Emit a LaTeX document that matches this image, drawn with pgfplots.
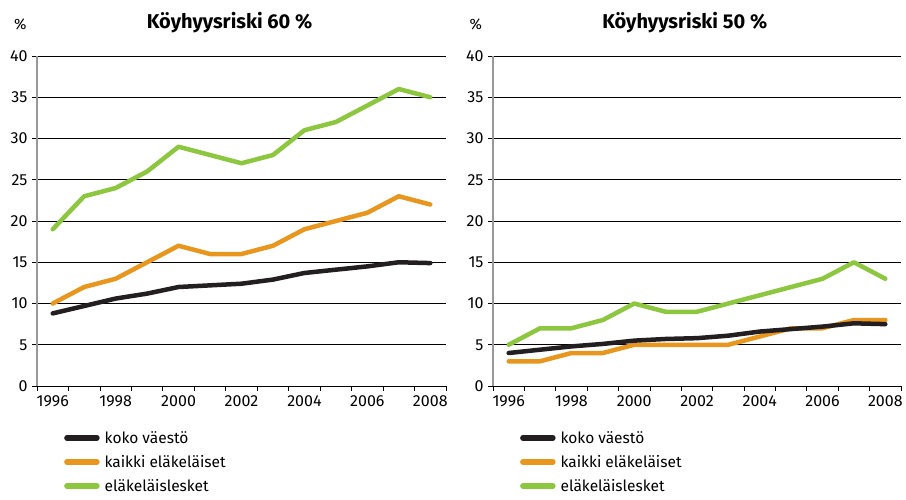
\documentclass[border=0pt]{standalone}
\usepackage{fontspec}
\setmainfont{Fira Sans}
\usepackage{pgfplots}
\pgfplotsset{compat=1.18}
\definecolor{cgreen}{HTML}{8DC63F}
\definecolor{corange}{HTML}{E8961E}
\definecolor{cblack}{HTML}{231F20}
\pgfplotsset{
  panel/.style={
    scale only axis, width=409pt, height=330pt,
    xmin=1995.5, xmax=2008.5, ymin=0, ymax=40,
    axis x line=bottom, axis y line=left,
    axis line style={-}, 
    y axis line style={draw=gray!80, line width=1.2pt},
    x axis line style={draw=black, line width=0.8pt},
    ytick={0,5,...,40}, ymajorgrids,
    grid style={black, line width=0.8pt},
    xtick={1996,1998,...,2008},
    xticklabels={1996,1998,2000,2002,2004,2006,2008},
    major x tick style={draw=none},
    minor xtick={1995.5,1996.5,...,2008.5},
    minor x tick style={black, line width=0.8pt},
    tick align=outside,
    major tick length=5pt, minor tick length=5pt,
    y tick style={black, line width=0.8pt},
    /pgf/number format/assume math mode=true,
    /pgf/number format/1000 sep={},
    tick label style={font=\fontsize{16}{18}\selectfont},
    yticklabel style={xshift=-1pt},
    xticklabel style={yshift=-1pt},
    every axis plot/.append style={line width=4.5pt, line join=round, line cap=round},
    legend style={draw=none, fill=none, font=\fontsize{15.5}{18}\selectfont,
      anchor=north west, row sep=6.5pt, inner sep=0pt,
      nodes={inner xsep=5pt}},
    legend cell align=left,
    legend image code/.code={\draw[##1, line width=5.5pt, line cap=round] (0pt,0pt) -- (30pt,0pt);},
    reverse legend,
    clip=false,
  }
}
\begin{document}
\begin{tikzpicture}
\path[use as bounding box] (0pt,0pt) rectangle (906pt,-499pt);
\begin{axis}[panel, anchor=south west, at={(37pt,-386pt)},
  legend style={at={(rel axis cs:0.066,-0.13)}}]
\addplot[cgreen] coordinates {(1996,19)(1997,23)(1998,24)(1999,26)(2000,29)(2001,28)(2002,27)(2003,28)(2004,31)(2005,32)(2006,34)(2007,36)(2008,35)};
\addlegendentry{eläkeläislesket}
\addplot[corange] coordinates {(1996,10)(1997,12)(1998,13)(1999,15)(2000,17)(2001,16)(2002,16)(2003,17)(2004,19)(2005,20)(2006,21)(2007,23)(2008,22)};
\addlegendentry{kaikki eläkeläiset}
\addplot[cblack] coordinates {(1996,8.8)(1997,9.7)(1998,10.6)(1999,11.2)(2000,12.0)(2001,12.2)(2002,12.4)(2003,12.9)(2004,13.7)(2005,14.1)(2006,14.5)(2007,15.0)(2008,14.9)};
\addlegendentry{koko väestö}
\node[font=\fontsize{15}{17}\selectfont] at (rel axis cs:-0.041,1.097) {\%};
\node[font=\fontsize{20}{24}\selectfont\bfseries] at (rel axis cs:0.471,1.1) {Köyhyysriski 60 \%};
\end{axis}
\begin{axis}[panel, anchor=south west, at={(493pt,-386pt)}, width=408pt,
  legend style={at={(rel axis cs:0.066,-0.13)}}]
\addplot[cgreen] coordinates {(1996,5)(1997,7)(1998,7)(1999,8)(2000,10)(2001,9)(2002,9)(2003,10)(2004,11)(2005,12)(2006,13)(2007,15)(2008,13)};
\addlegendentry{eläkeläislesket}
\addplot[corange] coordinates {(1996,3)(1997,3)(1998,4)(1999,4)(2000,5)(2001,5)(2002,5)(2003,5)(2004,6)(2005,7)(2006,7)(2007,8)(2008,8)};
\addlegendentry{kaikki eläkeläiset}
\addplot[cblack] coordinates {(1996,4.0)(1997,4.4)(1998,4.8)(1999,5.1)(2000,5.5)(2001,5.7)(2002,5.8)(2003,6.1)(2004,6.6)(2005,6.9)(2006,7.2)(2007,7.6)(2008,7.5)};
\addlegendentry{koko väestö}
\node[font=\fontsize{15}{17}\selectfont] at (rel axis cs:-0.042,1.097) {\%};
\node[font=\fontsize{20}{24}\selectfont\bfseries] at (rel axis cs:0.47,1.1) {Köyhyysriski 50 \%};
\end{axis}
\end{tikzpicture}
\end{document}
